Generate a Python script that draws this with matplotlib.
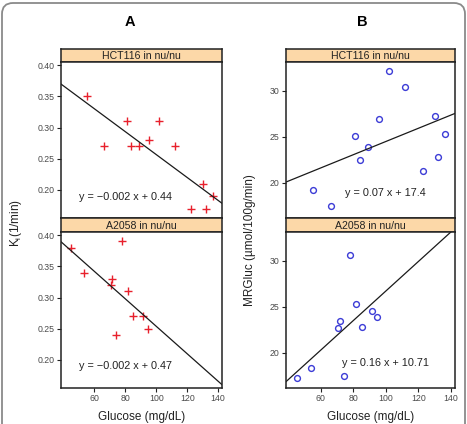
import matplotlib
matplotlib.use("Agg")
import matplotlib.pyplot as plt
import matplotlib.patches as mpatches
import matplotlib.transforms as mtransforms
import numpy as np

plt.rcParams['font.family'] = ['Liberation Sans', 'DejaVu Sans']

# glucose (mg/dL) per tumour
glucose_hct = [55, 66, 81, 84, 89, 95.5, 102, 112, 122.5, 130, 132, 136.5]
glucose_a2058 = [45, 53.6, 70.7, 71.6, 77.6, 81.5, 85.2, 91.4, 94.6, 74.2]

# Ki (1/min)
ki_hct = [0.35, 0.27, 0.31, 0.27, 0.27, 0.28, 0.31, 0.27, 0.17, 0.21, 0.17, 0.19]
ki_a2058 = [0.38, 0.34, 0.32, 0.33, 0.39, 0.31, 0.27, 0.27, 0.25, 0.24]

# MRGluc (umol/100g/min)
mrg_hct = [19.2, 17.55, 25.1, 22.5, 23.9, 26.9, 32.15, 30.4, 21.3, 27.2, 22.8, 25.3]
mrg_a2058 = [17.26, 18.34, 22.7, 23.5, 30.6, 25.25, 22.84, 24.57, 23.9, 17.5]

strip_labels = ["HCT116 in nu/nu", "A2058 in nu/nu"]
eq_ki = ["y = \u22120.002 x + 0.44", "y = \u22120.002 x + 0.47"]
eq_mrg = ["y = 0.07 x + 17.4", "y = 0.16 x + 10.71"]

W, H = 467, 424
fig = plt.figure(figsize=(W / 100, H / 100), dpi=100)

pix = mtransforms.Affine2D().scale(1 / W, 1 / H) + fig.transFigure


def box(x0, y_top, x1, y_bot):
    # pixel box (top-left origin) -> figure fraction rect
    return [x0 / W, (H - y_bot) / H, (x1 - x0) / W, (y_bot - y_top) / H]


# rounded border round everything
border = mpatches.FancyBboxPatch((2, -20), 463, 441, boxstyle="round,pad=0,rounding_size=11",
                                 transform=pix, fill=False, ec="#8a8a8a", lw=1.3)
fig.patches.append(border)

strip_color = "#fcd8a8"
tick_color = "#4a4a4a"
xlim = (38.5, 142.5)


def panel(ax, x, y, marker, color, ylim, yticks, eq, eqpos, bottom):
    ax.plot(x, y, linestyle="none", marker=marker, color=color, ms=6 if marker == "+" else 4.2,
            mew=1.0, mfc="none" if marker == "o" else color)
    k, b = np.polyfit(x, y, 1)
    xx = np.array(xlim)
    ax.plot(xx, k * xx + b, color="#1a1a1a", lw=0.9)
    ax.set_xlim(*xlim)
    ax.set_ylim(*ylim)
    ax.set_yticks(yticks)
    ax.set_xticks([60, 80, 100, 120, 140])
    ax.tick_params(direction="out", length=3, width=0.8, labelsize=6.3, colors=tick_color, pad=1.5)
    ax.tick_params(axis="both", color="#222222")
    if not bottom:
        ax.tick_params(axis="x", length=0, labelbottom=False)
    for s in ax.spines.values():
        s.set_linewidth(1.1)
        s.set_color("#222222")
    ax.text(eqpos[0], eqpos[1], eq, transform=ax.transAxes, fontsize=7.8, va="center", ha="left",
            color="#222222")


def strip(rect, label):
    sa = fig.add_axes(rect)
    sa.set_facecolor(strip_color)
    sa.set_xticks([])
    sa.set_yticks([])
    for s in sa.spines.values():
        s.set_linewidth(1.1)
        s.set_color("#222222")
    sa.text(0.5, 0.45, label, transform=sa.transAxes, ha="center", va="center", fontsize=7.6,
            color="#222222")


# panel A
strip(box(61, 49, 222, 62), strip_labels[0])
a1 = fig.add_axes(box(61, 62, 222, 218))
panel(a1, glucose_hct, ki_hct, "+", "#e8202c", (0.155, 0.405), [0.20, 0.25, 0.30, 0.35, 0.40],
      eq_ki[0], (0.112, 0.135), False)
a1.set_yticklabels(["0.20", "0.25", "0.30", "0.35", "0.40"])
strip(box(61, 218, 222, 232), strip_labels[1])
a2 = fig.add_axes(box(61, 232, 222, 388))
panel(a2, glucose_a2058, ki_a2058, "+", "#e8202c", (0.155, 0.405), [0.20, 0.25, 0.30, 0.35, 0.40],
      eq_ki[1], (0.112, 0.141), True)
a2.set_yticklabels(["0.20", "0.25", "0.30", "0.35", "0.40"])

# panel B
strip(box(286, 49, 455, 62), strip_labels[0])
b1 = fig.add_axes(box(286, 62, 455, 218))
panel(b1, glucose_hct, mrg_hct, "o", "#3c3cd6", (16.2, 33.1), [20, 25, 30],
      eq_mrg[0], (0.349, 0.158), False)
strip(box(286, 218, 455, 232), strip_labels[1])
b2 = fig.add_axes(box(286, 232, 455, 388))
panel(b2, glucose_a2058, mrg_a2058, "o", "#3c3cd6", (16.2, 33.1), [20, 25, 30],
      eq_mrg[1], (0.333, 0.162), True)

# titles and axis labels
fig.text(130 / W, 1 - 22 / H, "A", ha="center", va="center", fontsize=10.5, fontweight="bold")
fig.text(362 / W, 1 - 22 / H, "B", ha="center", va="center", fontsize=10.5, fontweight="bold")
fig.text(16 / W, 1 - 223 / H, "K$_\\mathregular{i}$(1/min)", rotation=90, ha="center", va="center",
         fontsize=8.5, color="#222222")
fig.text(250 / W, 1 - 240 / H, "MRGluc (\u00b5mol/100g/min)", rotation=90, ha="center", va="center",
         fontsize=8.5, color="#222222")
fig.text(141.5 / W, 1 - 423 / H, "Glucose (mg/dL)", ha="center", va="bottom", fontsize=8.5, color="#222222")
fig.text(370.5 / W, 1 - 423 / H, "Glucose (mg/dL)", ha="center", va="bottom", fontsize=8.5, color="#222222")

fig.savefig("out.png", dpi=100)
